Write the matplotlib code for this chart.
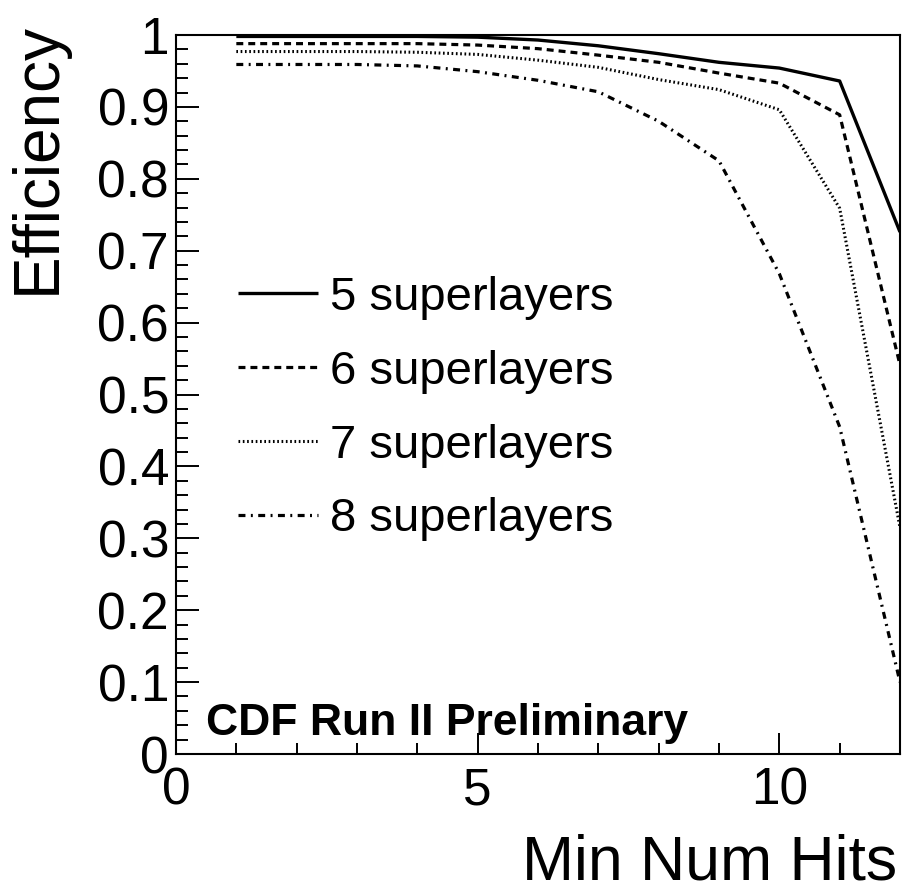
import matplotlib
matplotlib.use("Agg")
import matplotlib.pyplot as plt
from matplotlib.ticker import MultipleLocator

plt.rcParams['font.family'] = ['Liberation Sans', 'DejaVu Sans']
plt.rcParams['lines.scale_dashes'] = False

# ---- data ----
min_hits = [1, 2, 3, 4, 5, 6, 7, 8, 9, 10, 11, 12]
eff_5sl = [0.998, 0.998, 0.998, 0.998, 0.997, 0.993, 0.985, 0.974, 0.962, 0.954, 0.936, 0.726]
eff_6sl = [0.988, 0.988, 0.988, 0.988, 0.986, 0.981, 0.972, 0.962, 0.947, 0.933, 0.889, 0.541]
eff_7sl = [0.977, 0.977, 0.977, 0.976, 0.973, 0.965, 0.955, 0.938, 0.924, 0.896, 0.759, 0.315]
eff_8sl = [0.959, 0.959, 0.959, 0.957, 0.949, 0.937, 0.921, 0.880, 0.825, 0.668, 0.455, 0.100]
labels = ["5 superlayers", "6 superlayers", "7 superlayers", "8 superlayers"]

W, H = 902, 892
fig = plt.figure(figsize=(W / 100, H / 100), dpi=100)
ax = fig.add_axes([176 / W, (H - 754) / H, 724 / W, 719 / H])

series = [eff_5sl, eff_6sl, eff_7sl, eff_8sl]
styles = [
    dict(linestyle='-', lw=2.4),
    dict(linestyle=(0, (5.0, 3.6)), lw=2.3),
    dict(linestyle=(0, (1.2, 1.9)), lw=2.2),
    dict(linestyle=(0, (5.0, 3.9, 1.4, 3.9)), lw=2.3),
]
for y, st, lab in zip(series, styles, labels):
    ax.plot(min_hits, y, color='black', label=lab, clip_on=True,
            solid_capstyle='butt', dash_capstyle='butt', **st)

ax.set_xlim(0, 12)
ax.set_ylim(0, 1)
ax.xaxis.set_major_locator(MultipleLocator(5))
ax.xaxis.set_minor_locator(MultipleLocator(1))
ax.yaxis.set_major_locator(MultipleLocator(0.1))
ax.yaxis.set_minor_locator(MultipleLocator(0.02))
ax.set_yticks([0, 0.1, 0.2, 0.3, 0.4, 0.5, 0.6, 0.7, 0.8, 0.9, 1.0])
ax.set_yticklabels(['0', '0.1', '0.2', '0.3', '0.4', '0.5', '0.6', '0.7', '0.8', '0.9', '1'])
ax.set_xticks([0, 5, 10])
ax.set_xticklabels(['0', '5', '10'])

ax.tick_params(axis='both', which='both', direction='in', top=False, right=False,
               width=1.4, labelsize=37)
ax.tick_params(axis='y', which='major', length=16.5, pad=5)
ax.tick_params(axis='y', which='minor', length=8.5)
ax.tick_params(axis='x', which='major', length=15, pad=9)
ax.tick_params(axis='x', which='minor', length=8)
for sp in ax.spines.values():
    sp.set_linewidth(1.5)

fig.text(38 / W, 1 - 22 / H, "Efficiency", rotation=90, ha='center', va='top',
         fontsize=46)
fig.text(897 / W, 1 - 880 / H, "Min Num Hits", ha='right', va='baseline', fontsize=45)

ax.text((206 - 176) / 724, (754 - 735) / 719, "CDF Run II Preliminary",
        transform=ax.transAxes, fontsize=32, fontweight='bold', va='baseline', ha='left')

leg = ax.legend(loc='upper left', bbox_to_anchor=((238 - 176) / 724, (754 - 276) / 719),
                frameon=False, fontsize=34, handlelength=1.7, handletextpad=0.25,
                labelspacing=0.63, borderpad=0, borderaxespad=0)

fig.savefig("out.png", dpi=100)
